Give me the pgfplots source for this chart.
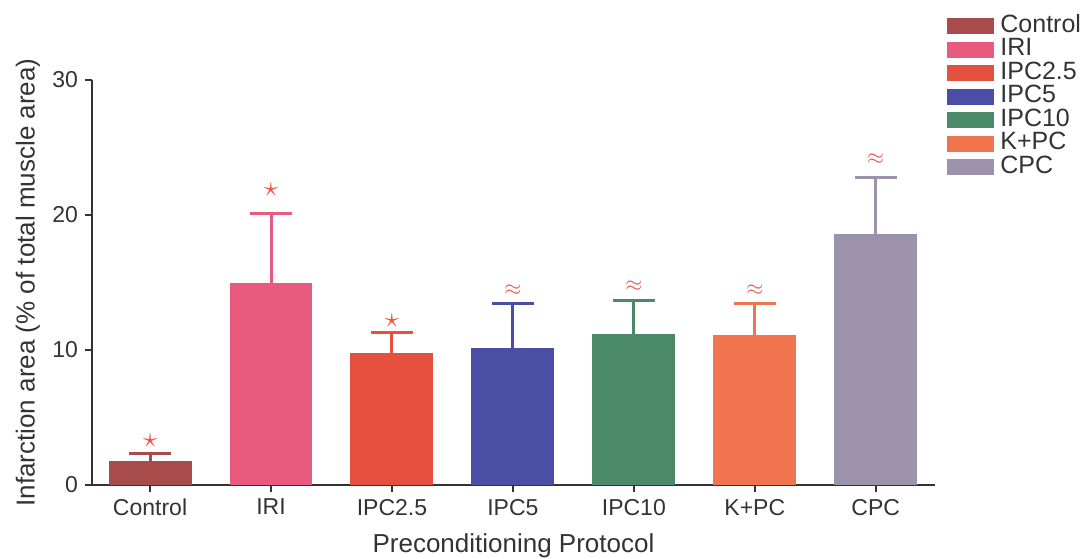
\documentclass[border=0pt]{standalone}
\usepackage{pgfplots}
\pgfplotsset{compat=1.18}
\usepackage{fontspec}
\setmainfont{Liberation Sans}
\definecolor{cControl}{HTML}{A84B4B}
\definecolor{cIRI}{HTML}{E85A7E}
\definecolor{cIPCa}{HTML}{E5503F}
\definecolor{cIPCb}{HTML}{4A4FA5}
\definecolor{cIPCc}{HTML}{4A8A68}
\definecolor{cKPC}{HTML}{F0754E}
\definecolor{cCPC}{HTML}{9D92AC}
\definecolor{cStar}{HTML}{EA5443}
\definecolor{cAx}{HTML}{333333}
\begin{document}
\begin{tikzpicture}
\begin{axis}[
  scale only axis,
  width=421.5pt, height=202.5pt,
  xmin=-0.48, xmax=6.49, ymin=0, ymax=30,
  axis x line=bottom, axis y line=left,
  axis line style={-, line width=1pt, color=cAx},
  tick align=outside,
  major tick length=3.5pt,
  every tick/.style={line width=1pt, color=cAx},
  xtick={0,1,2,3,4,5,6},
  xticklabels={Control,IRI,IPC2.5,IPC5,IPC10,K+PC,CPC},
  ytick={0,10,20,30},
  /pgf/number format/assume math mode=true,
  ticklabel style={font=\fontsize{11.5}{12}\selectfont, text=cAx},
  ylabel={Infarction area (\% of total muscle area)},
  xlabel={Preconditioning Protocol},
  label style={font=\fontsize{13}{14}\selectfont, text=cAx},
  ylabel style={at={(axis description cs:-0.076,0.5)}, anchor=center, rotate=0},
  xlabel style={at={(axis description cs:0.5,0)}, anchor=base, yshift=-33.5pt},
  legend style={at={(1,1)}, anchor=north west, xshift=3pt, yshift=35pt,
    draw=none, fill=none, font=\fontsize{12.5}{12.5}\selectfont,
    nodes={inner sep=0pt, text height=9pt, text depth=2.75pt, text=cAx},
    legend cell align=left, column sep=3pt},
  legend image code/.code={\fill[#1] (0pt,-4pt) rectangle (23.5pt,4pt);},
  error bars/y dir=plus, error bars/y explicit,
  error bars/error mark=|,
]
\addplot[ybar, bar width=0.686, bar shift=0pt, fill=cControl, draw=none,
  error bars/error bar style={line width=1.5pt, color=cControl},
  error bars/error mark options={line width=1.5pt, color=cControl, mark size=10.5pt}]
  coordinates {(0,1.78) +- (0,0.59)};
\addlegendentry{Control}
\addplot[ybar, bar width=0.686, bar shift=0pt, fill=cIRI, draw=none,
  error bars/error bar style={line width=1.5pt, color=cIRI},
  error bars/error mark options={line width=1.5pt, color=cIRI, mark size=10.5pt}]
  coordinates {(1,14.96) +- (0,5.14)};
\addlegendentry{IRI}
\addplot[ybar, bar width=0.686, bar shift=0pt, fill=cIPCa, draw=none,
  error bars/error bar style={line width=1.5pt, color=cIPCa},
  error bars/error mark options={line width=1.5pt, color=cIPCa, mark size=10.5pt}]
  coordinates {(2,9.8) +- (0,1.46)};
\addlegendentry{IPC2.5}
\addplot[ybar, bar width=0.686, bar shift=0pt, fill=cIPCb, draw=none,
  error bars/error bar style={line width=1.5pt, color=cIPCb},
  error bars/error mark options={line width=1.5pt, color=cIPCb, mark size=10.5pt}]
  coordinates {(3,10.17) +- (0,3.29)};
\addlegendentry{IPC5}
\addplot[ybar, bar width=0.686, bar shift=0pt, fill=cIPCc, draw=none,
  error bars/error bar style={line width=1.5pt, color=cIPCc},
  error bars/error mark options={line width=1.5pt, color=cIPCc, mark size=10.5pt}]
  coordinates {(4,11.19) +- (0,2.51)};
\addlegendentry{IPC10}
\addplot[ybar, bar width=0.686, bar shift=0pt, fill=cKPC, draw=none,
  error bars/error bar style={line width=1.5pt, color=cKPC},
  error bars/error mark options={line width=1.5pt, color=cKPC, mark size=10.5pt}]
  coordinates {(5,11.09) +- (0,2.37)};
\addlegendentry{K+PC}
\addplot[ybar, bar width=0.686, bar shift=0pt, fill=cCPC, draw=none,
  error bars/error bar style={line width=1.5pt, color=cCPC},
  error bars/error mark options={line width=1.5pt, color=cCPC, mark size=10.5pt}]
  coordinates {(6,18.59) +- (0,4.22)};
\addlegendentry{CPC}
\addplot[forget plot, only marks, mark=none, point meta=explicit symbolic,
  nodes near coords, nodes near coords align=center,
  every node near coord/.append style={anchor=center, inner sep=0pt, text=cStar, font=\fontsize{14}{14}\selectfont}]
  coordinates {(0,3.26) [$\star$] (1,21.85) [$\star$] (2,12.15) [$\star$]};
\addplot[forget plot, only marks, mark=none, point meta=explicit symbolic,
  nodes near coords, nodes near coords align=center,
  every node near coord/.append style={anchor=center, inner sep=0pt, text=cStar, font=\fontsize{11}{11}\selectfont}]
  coordinates {(3,14.44) [$\approx$] (4,14.7) [$\approx$] (5,14.44) [$\approx$] (6,24.1) [$\approx$]};
\end{axis}
\pgfresetboundingbox
\path (-46pt,-36.5pt) rectangle (495.5pt,242.5pt);
\end{tikzpicture}
\end{document}
